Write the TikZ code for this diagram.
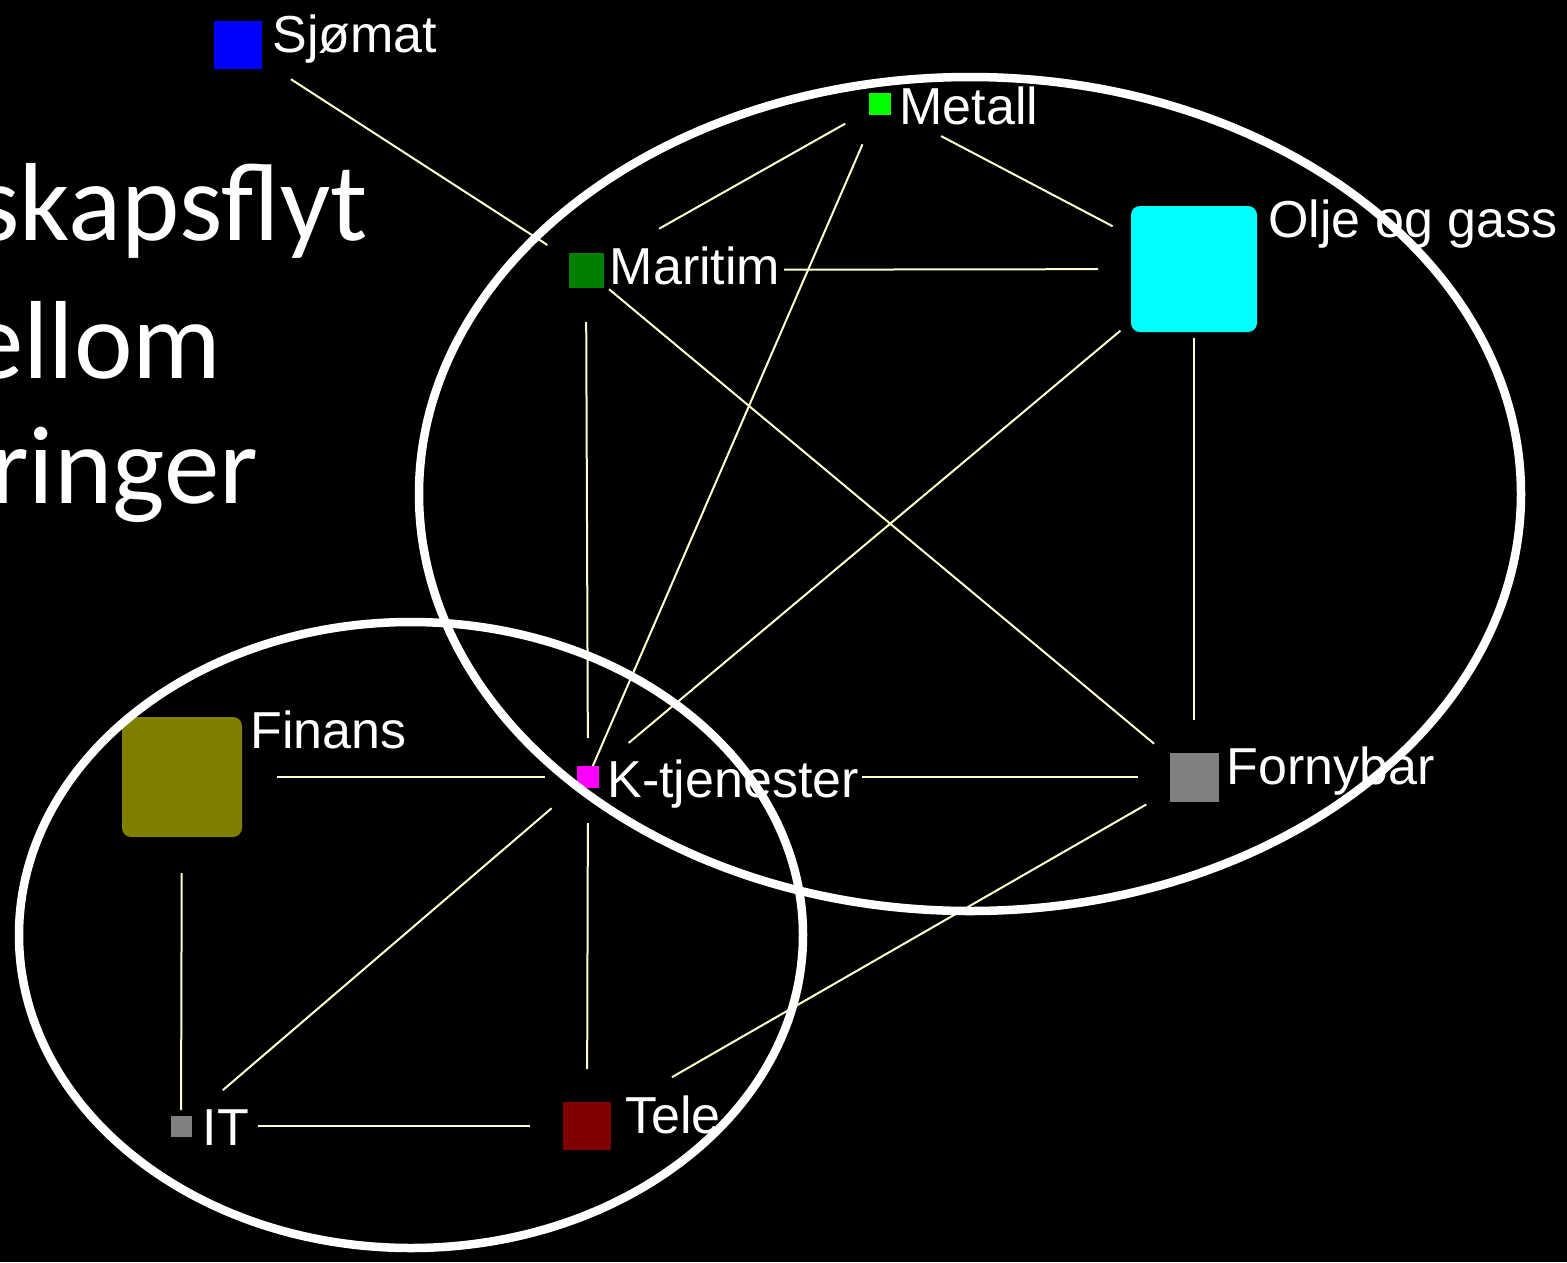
\documentclass[tikz,border=0pt]{standalone}
\usepackage{fontspec}
\setmainfont{Liberation Sans}
\newfontfamily\titlefont{Carlito}
\usetikzlibrary{positioning}
\definecolor{linkcol}{RGB}{255,255,204}
\definecolor{sjomatcol}{RGB}{0,0,255}
\definecolor{metallcol}{RGB}{0,255,0}
\definecolor{maritimcol}{RGB}{0,128,0}
\definecolor{oljecol}{RGB}{0,255,255}
\definecolor{finanscol}{RGB}{128,128,0}
\definecolor{ktjcol}{RGB}{255,0,255}
\definecolor{greycol}{RGB}{128,128,128}
\definecolor{telecol}{RGB}{128,0,0}

\begin{document}
\begin{tikzpicture}[x=1pt, y=-1pt,
  sq/.style={inner sep=0pt, minimum size=#1},
  lbl/.style={text=white, inner sep=0pt, font=\fontsize{52}{60}\selectfont},
  link/.style={draw=linkcol, line width=2pt},
  ring/.style={draw=white, line width=8.5pt},
  heading/.style={text=white, inner sep=0pt, anchor=base west,
                  font=\titlefont\fontsize{111}{133}\selectfont}]
  \useasboundingbox (0,0) rectangle (1567,1262);
  \fill[black] (0,0) rectangle (1567,1262);
  \clip (0,0) rectangle (1567,1262);

  % --- Title (cut off at the left edge) ---
  \node[heading] (head1) at (-24,240) {skapsflyt};
  \node[heading] (head2) at (-32,378) {ellom};
  \node[heading] (head3) at (-10,503) {ringer};

  % --- Sectors ---
  \node[sq=48, fill=sjomatcol]                       (sjomat)   at (238,45)   {};
  \node[sq=22, fill=metallcol]                       (metall)   at (880,104)  {};
  \node[sq=35, fill=maritimcol]                      (maritim)  at (586,270)  {};
  \node[sq=126, fill=oljecol, rounded corners=9pt]   (olje)     at (1194,269) {};
  \node[sq=120, fill=finanscol, rounded corners=9pt] (finans)   at (182,777)  {};
  \node[sq=22, fill=ktjcol]                          (ktj)      at (588,777)  {};
  \node[sq=49, fill=greycol]                         (fornybar) at (1194,777) {};
  \node[sq=21, fill=greycol]                         (it)       at (181,1126) {};
  \node[sq=48, fill=telecol]                         (tele)     at (587,1126) {};

  % --- Labels ---
  \node[lbl, above right=6pt and 10pt of sjomat.north east, anchor=north west]   (sjomat-l)   {Sjømat};
  \node[lbl, above right=6pt and 8pt of metall.north east, anchor=north west]    (metall-l)   {Metall};
  \node[lbl, above right=6pt and 6pt of maritim.north east, anchor=north west]   (maritim-l)  {Maritim};
  \node[lbl, above right=6pt and 11pt of olje.north east, anchor=north west]     (olje-l)     {Olje og gass};
  \node[lbl, above right=6pt and 8pt of finans.north east, anchor=north west]    (finans-l)   {Finans};
  \node[lbl, above right=6pt and 8pt of ktj.north east, anchor=north west]       (ktj-l)      {K-tjenester};
  \node[lbl, above right=6pt and 8pt of fornybar.north east, anchor=north west]  (fornybar-l) {Fornybar};
  \node[lbl, above right=6pt and 11pt of it.north east, anchor=north west]       (it-l)       {IT};
  \node[lbl, above right=6pt and 14pt of tele.north east, anchor=north west]     (tele-l)     {Tele};

  % --- Flows (gap at each end) ---
  \foreach \a/\b/\s/\e in {sjomat/maritim/63/46, metall/maritim/40/84,
      metall/ktj/44/12, metall/olje/69/92, maritim/olje/198/96,
      maritim/fornybar/30/52, maritim/ktj/52/39, olje/ktj/96/53,
      olje/fornybar/69/57, ktj/fornybar/274/56, finans/ktj/95/43,
      ktj/it/48/55, ktj/tele/46/57, finans/it/96/16, it/tele/77/57,
      fornybar/tele/55/98} {
    \draw[link, shorten <=\s, shorten >=\e] (\a.center) -- (\b.center);
  }

  % --- Clusters ---
  \draw[ring] (970,494) ellipse [x radius=551pt, y radius=417pt];
  \draw[ring] (411,935) ellipse [x radius=392pt, y radius=313pt];
\end{tikzpicture}
\end{document}
